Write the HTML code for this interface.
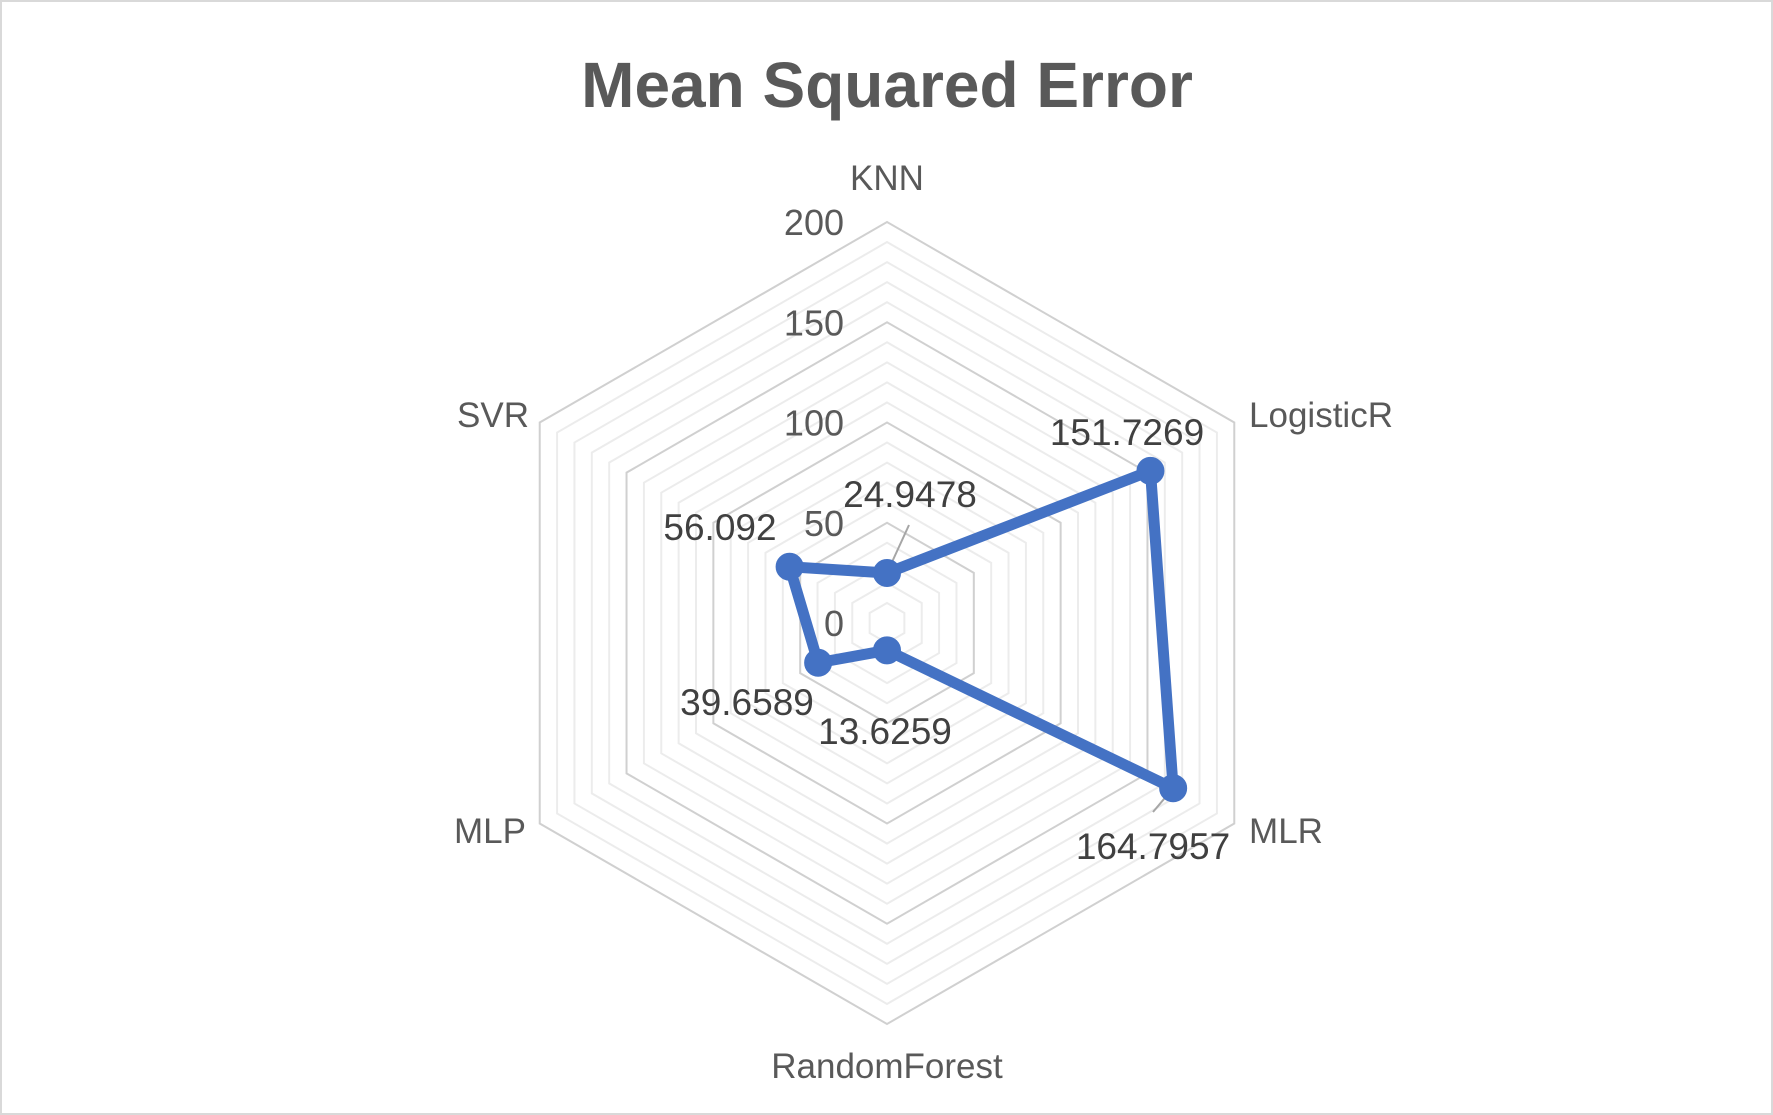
<!DOCTYPE html>
<html><head><meta charset="utf-8"><style>
html,body{margin:0;padding:0;background:#fff}
svg{display:block;font-family:"Liberation Sans",sans-serif}
</style></head><body>
<svg id="chart" width="1773" height="1115">
<rect x="1" y="1" width="1771" height="1113" fill="#fff" stroke="#d9d9d9" stroke-width="2"/>
<text x="887" y="107" text-anchor="middle" font-size="64" font-weight="bold" fill="#595959">Mean Squared Error</text>
<g id="grid"></g><g id="ticks"></g><g id="cats"></g><g id="series"></g><g id="labels"></g>
</svg>
<script>
const categories=["KNN","LogisticR","MLR","RandomForest","MLP","SVR"];
const values=[24.9478,151.7269,164.7957,13.6259,39.6589,56.092];
const valueLabels=["24.9478","151.7269","164.7957","13.6259","39.6589","56.092"];
const ticks=[0,50,100,150,200];
const maxV=200;
const cx=887,cy=623,R=401;
const NS="http://www.w3.org/2000/svg";
function ang(i){return -Math.PI/2+i*2*Math.PI/categories.length;}
function pt(i,v){const r=v/maxV*R;return [cx+r*Math.cos(ang(i)),cy+r*Math.sin(ang(i))];}
function mk(t,a,p){const e=document.createElementNS(NS,t);for(const k in a)e.setAttribute(k,a[k]);p.appendChild(e);return e;}
const grid=document.getElementById('grid');
for(let v=10;v<=maxV;v+=10){
 const pts=categories.map((c,i)=>pt(i,v).join(',')).join(' ');
 const major=v%50===0;
 const e=mk('polygon',{points:pts,fill:'none',stroke:major?'#d0d0d0':'#ececec','stroke-width':2},grid);
 
 
}
const tg=document.getElementById('ticks');
ticks.forEach(t=>{const p=pt(0,t);
 const e=mk('text',{x:p[0]-43,y:p[1]+13,'text-anchor':'end','font-size':36,fill:'#595959'},tg);e.textContent=t;
 
 });
const catPos=[[887,190],[1321,427],[1286,843],[887,1078],[490,843],[493,427]];
const cg=document.getElementById('cats');
categories.forEach((c,i)=>{
 const e=mk('text',{x:catPos[i][0],y:catPos[i][1],'text-anchor':'middle','font-size':35,fill:'#595959'},cg);e.textContent=c;
 
 });
const sg=document.getElementById('series');
const P=values.map((v,i)=>pt(i,v));
const l1=mk('line',{x1:P[0][0],y1:P[0][1],x2:909,y2:525,stroke:'#a6a6a6','stroke-width':2},sg);


const l2=mk('line',{x1:P[2][0],y1:P[2][1],x2:1153,y2:812,stroke:'#a6a6a6','stroke-width':2},sg);


const poly=mk('polygon',{points:P.map(p=>p.join(',')).join(' '),fill:'none',stroke:'#4472c4','stroke-width':11,'stroke-linejoin':'round'},sg);


P.forEach((p,i)=>{const e=mk('circle',{cx:p[0],cy:p[1],r:13,fill:'#4472c4',stroke:'#4472c4','stroke-width':2},sg);
 
 });
const lblPos=[[910,507],[1127,445],[1153,859],[885,744],[747,715],[720,540]];
const lg=document.getElementById('labels');
valueLabels.forEach((t,i)=>{const e=mk('text',{x:lblPos[i][0],y:lblPos[i][1],'text-anchor':'middle','font-size':37,fill:'#404040'},lg);e.textContent=t;
 
 });
</script>
</body></html>
